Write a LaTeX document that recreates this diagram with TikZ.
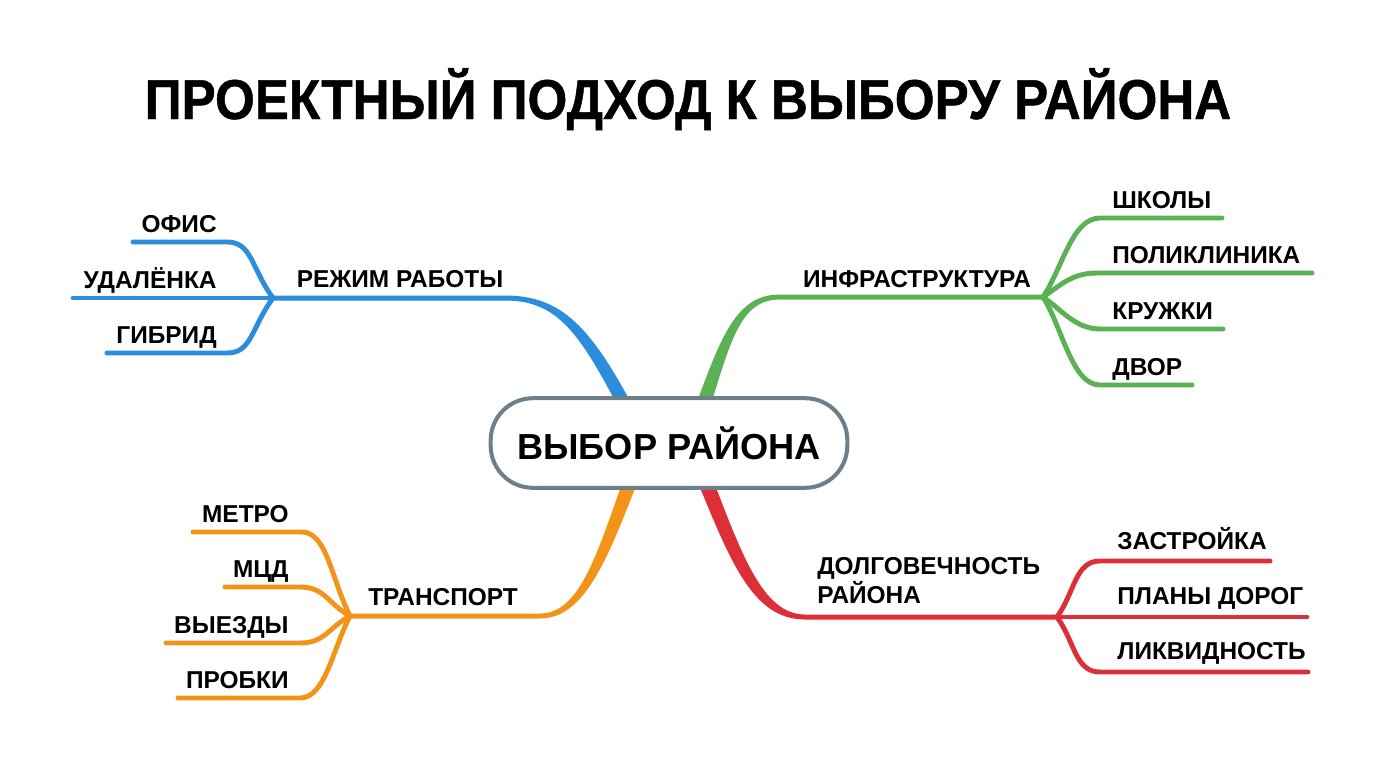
\documentclass[tikz,border=0pt]{standalone}
\usepackage{fontspec}
\setmainfont{Liberation Sans}
\newfontfamily\titlefont[FakeStretch=0.91,FakeBold=0.8]{Liberation Sans}
\usepackage{tikz}
\usetikzlibrary{calc,positioning}
\definecolor{BranchBlue}{RGB}{43,141,219}
\definecolor{BranchGreen}{RGB}{91,178,84}
\definecolor{BranchOrange}{RGB}{243,148,25}
\definecolor{BranchRed}{RGB}{220,47,55}
\definecolor{HubGray}{RGB}{110,127,138}

\begin{document}
\begin{tikzpicture}[
  x=0.02cm, y=-0.02cm,
  every node/.style={text=black, inner sep=0pt, font=\bfseries\fontsize{13.9}{16.2}\selectfont},
  title/.style={font=\titlefont\bfseries\fontsize{32}{36}\selectfont},
  hub/.style={draw=HubGray, line width=2.3pt, fill=white, rounded corners=24pt,
    minimum width=203pt, minimum height=51pt, font=\bfseries\fontsize{20.6}{24}\selectfont},
  leaf/.style={line width=2.8pt, line cap=round}
]

% ---- canvas ----
\fill[white] (0,0) rectangle (1376,768);
\useasboundingbox (0,0) rectangle (1376,768);

% ---- title ----
\node[title, anchor=base] (T) at (688,119) {ПРОЕКТНЫЙ ПОДХОД К ВЫБОРУ РАЙОНА};

% ---- junctions ----
\coordinate (J1) at (273,298);
\coordinate (J2) at (1043,297);
\coordinate (J3) at (350,616);
\coordinate (J4) at (1057,617);

% ---- trunks (tapered) ----
\fill[BranchBlue] ($(J1)+(0,-2.5)$) -- (505,295.5) .. controls (562,295.5) and (591,327) .. (636,412)
  -- (624,418) .. controls (580,333) and (558,300.5) .. (505,300.5) -- ($(J1)+(0,2.5)$) -- cycle;
\fill[BranchGreen] ($(J2)+(0,-2.5)$) -- (780,294.5) .. controls (736,294.5) and (721,336) .. (693,413)
  -- (707,417) .. controls (731,340) and (740,299.5) .. (780,299.5) -- ($(J2)+(0,2.5)$) -- cycle;
\fill[BranchOrange] ($(J3)+(0,2.5)$) -- (540,618.5) .. controls (585,618.5) and (608,558) .. (639,478)
  -- (626,472) .. controls (597,554) and (580,613.5) .. (540,613.5) -- ($(J3)+(0,-2.5)$) -- cycle;
\fill[BranchRed] ($(J4)+(0,2.5)$) -- (805,619.5) .. controls (752,619.5) and (730,560) .. (696,478)
  -- (710,472) .. controls (741,552) and (762,614.5) .. (805,614.5) -- ($(J4)+(0,-2.5)$) -- cycle;

% ---- hub ----
\node[hub] (C) at (669,443) {ВЫБОР РАЙОНА};

% ---- branch labels ----
\node[anchor=base] (B1) at (400,287) {РЕЖИМ РАБОТЫ};
\node[anchor=base] (B2) at (917,287) {ИНФРАСТРУКТУРА};
\node[anchor=base] (B3) at (443,605) {ТРАНСПОРТ};
\node[anchor=base west, align=left] (B4) at (817,603) {ДОЛГОВЕЧНОСТЬ\\РАЙОНА};

% ---- leaves: work mode ----
\coordinate (L11) at (133,242); \coordinate (K11) at (227,242);
\coordinate (L12) at (73,298);
\coordinate (L13) at (107,353); \coordinate (K13) at (227,353);
\draw[leaf, BranchBlue] (L11) -- (K11) .. controls +(25,0) and +(-22,-30) .. (J1);
\draw[leaf, BranchBlue] (L12) -- (J1);
\draw[leaf, BranchBlue] (L13) -- (K13) .. controls +(25,0) and +(-22,30) .. (J1);
\node[anchor=base east] (A11) at (217,232) {ОФИС};
\node[anchor=base east] (A12) at (217,288) {УДАЛЁНКА};
\node[anchor=base east] (A13) at (217,343) {ГИБРИД};

% ---- leaves: infrastructure ----
\coordinate (K21) at (1100,218); \coordinate (L21) at (1222,218);
\coordinate (K22) at (1097,273); \coordinate (L22) at (1312,273);
\coordinate (K23) at (1100,329); \coordinate (L23) at (1223,329);
\coordinate (K24) at (1100,385); \coordinate (L24) at (1192,385);
\draw[leaf, BranchGreen] (J2) .. controls +(20,-30) and +(-28,0) .. (K21) -- (L21);
\draw[leaf, BranchGreen] (J2) .. controls +(18,-12) and +(-25,0) .. (K22) -- (L22);
\draw[leaf, BranchGreen] (J2) .. controls +(18,12) and +(-25,0) .. (K23) -- (L23);
\draw[leaf, BranchGreen] (J2) .. controls +(20,32) and +(-28,0) .. (K24) -- (L24);
\node[anchor=base west] (A21) at (1112,208) {ШКОЛЫ};
\node[anchor=base west] (A22) at (1112,263) {ПОЛИКЛИНИКА};
\node[anchor=base west] (A23) at (1112,319) {КРУЖКИ};
\node[anchor=base west] (A24) at (1112,375) {ДВОР};

% ---- leaves: transport ----
\coordinate (L31) at (193,532); \coordinate (K31) at (302,532);
\coordinate (L32) at (225,587); \coordinate (K32) at (300,587);
\coordinate (L33) at (166,643); \coordinate (K33) at (300,643);
\coordinate (L34) at (178,698); \coordinate (K34) at (300,698);
\draw[leaf, BranchOrange] (L31) -- (K31) .. controls +(25,0) and +(-18,-35) .. (J3);
\draw[leaf, BranchOrange] (L32) -- (K32) .. controls +(25,0) and +(-22,-12) .. (J3);
\draw[leaf, BranchOrange] (L33) -- (K33) .. controls +(25,0) and +(-22,12) .. (J3);
\draw[leaf, BranchOrange] (L34) -- (K34) .. controls +(25,0) and +(-18,35) .. (J3);
\node[anchor=base east] (A31) at (289,522) {МЕТРО};
\node[anchor=base east] (A32) at (289,577) {МЦД};
\node[anchor=base east] (A33) at (289,633) {ВЫЕЗДЫ};
\node[anchor=base east] (A34) at (289,688) {ПРОБКИ};

% ---- leaves: longevity ----
\coordinate (K41) at (1100,561); \coordinate (L41) at (1270,561);
\coordinate (L42) at (1307,617);
\coordinate (K43) at (1100,672); \coordinate (L43) at (1308,672);
\draw[leaf, BranchRed] (J4) .. controls +(18,-25) and +(-25,0) .. (K41) -- (L41);
\draw[leaf, BranchRed] (J4) -- (L42);
\draw[leaf, BranchRed] (J4) .. controls +(18,25) and +(-25,0) .. (K43) -- (L43);
\node[anchor=base west] (A41) at (1117,549) {ЗАСТРОЙКА};
\node[anchor=base west] (A42) at (1117,604) {ПЛАНЫ ДОРОГ};
\node[anchor=base west] (A43) at (1117,659) {ЛИКВИДНОСТЬ};

\end{tikzpicture}
\end{document}
